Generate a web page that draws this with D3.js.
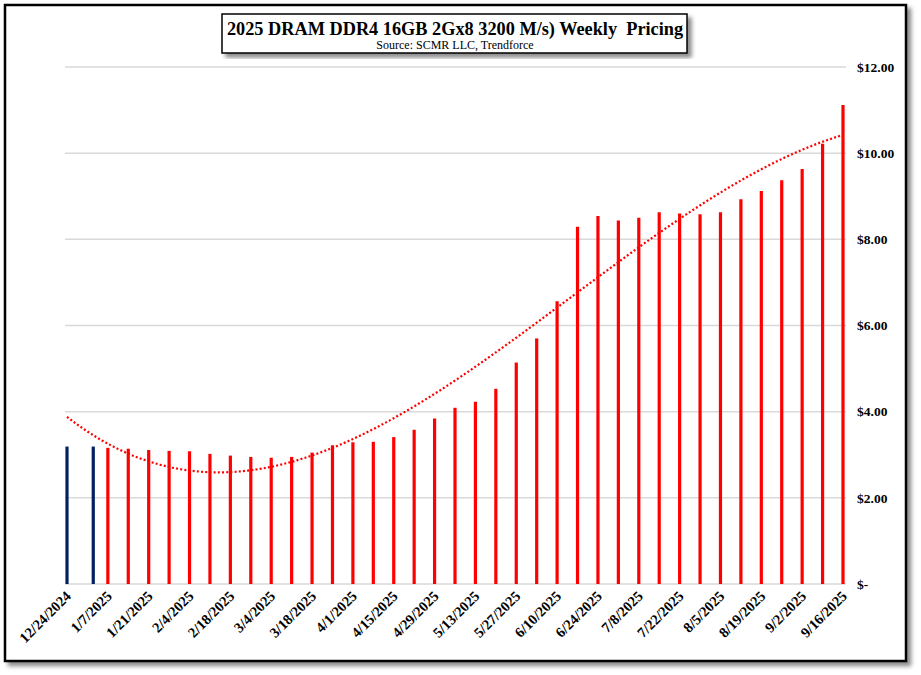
<!DOCTYPE html>
<html>
<head>
<meta charset="utf-8">
<script src="https://cdn.jsdelivr.net/npm/d3@7"></script>
<style>
  body { margin: 0; background: #fff; }
  text { font-family: "Liberation Serif", "Times New Roman", serif; font-weight: bold; }
</style>
</head>
<body>
<div id="chart"></div>
<script>
// weekly DDR4 16GB contract pricing
var dates = ["2024-12-24", "2025-01-02", "2025-01-07", "2025-01-14", "2025-01-21", "2025-01-28",
  "2025-02-04", "2025-02-11", "2025-02-18", "2025-02-25", "2025-03-04", "2025-03-11",
  "2025-03-18", "2025-03-25", "2025-04-01", "2025-04-08", "2025-04-15", "2025-04-22",
  "2025-04-29", "2025-05-06", "2025-05-13", "2025-05-20", "2025-05-27", "2025-06-03",
  "2025-06-10", "2025-06-17", "2025-06-24", "2025-07-01", "2025-07-08", "2025-07-15",
  "2025-07-22", "2025-07-29", "2025-08-05", "2025-08-12", "2025-08-19", "2025-08-26",
  "2025-09-02", "2025-09-09", "2025-09-16"];
var prices = [3.19, 3.19, 3.16, 3.14, 3.11, 3.09,
  3.08, 3.02, 2.98, 2.95, 2.93, 2.95,
  3.05, 3.22, 3.29, 3.30, 3.41, 3.58,
  3.84, 4.09, 4.23, 4.53, 5.14, 5.70,
  6.56, 8.29, 8.54, 8.44, 8.50, 8.63,
  8.60, 8.58, 8.63, 8.93, 9.12, 9.37,
  9.63, 10.22, 11.12];
// first two weeks are 2024 contract (blue), rest red
var barColors = ["#002060", "#002060"];
var tickLabels = ["12/24/2024", "1/7/2025", "1/21/2025", "2/4/2025", "2/18/2025", "3/4/2025",
  "3/18/2025", "4/1/2025", "4/15/2025", "4/29/2025", "5/13/2025", "5/27/2025", "6/10/2025",
  "6/24/2025", "7/8/2025", "7/22/2025", "8/5/2025", "8/19/2025", "9/2/2025", "9/16/2025"];
var yTicks = [0, 2, 4, 6, 8, 10, 12];

var width = 921, height = 675;
var parse = d3.timeParse("%Y-%m-%d");
var labelParse = d3.timeParse("%m/%d/%Y");
var data = dates.map(function(d, i) { return {date: parse(d), value: prices[i]}; });

var svg = d3.select("#chart").append("svg")
  .attr("width", width)
  .attr("height", height);

var defs = svg.append("defs");
var f = defs.append("filter").attr("id", "shadow").attr("x", "-5%").attr("y", "-5%").attr("width", "115%").attr("height", "120%");
f.append("feDropShadow").attr("dx", 4).attr("dy", 4).attr("stdDeviation", 2)
  .attr("flood-color", "#000").attr("flood-opacity", 0.45);

// outer frame
svg.append("rect")
  .attr("x", 5).attr("y", 5)
  .attr("width", 901).attr("height", 656)
  .attr("fill", "#fff")
  .attr("stroke", "#000")
  .attr("stroke-width", 2.5)
  .attr("filter", "url(#shadow)");

var x = d3.scaleTime()
  .domain([parse(dates[0]), parse(dates[dates.length - 1])])
  .range([67, 843]);
var y = d3.scaleLinear()
  .domain([0, 12])
  .range([584, 67]);

// gridlines
svg.append("g").selectAll("line")
  .data(yTicks)
  .enter().append("line")
    .attr("x1", 65).attr("x2", 846)
    .attr("y1", function(d) { return y(d); })
    .attr("y2", function(d) { return y(d); })
    .attr("stroke", "#d9d9d9")
    .attr("stroke-width", 1.5);

// y labels on the right
svg.append("g").selectAll("text")
  .data(yTicks)
  .enter().append("text")
    .attr("x", 857)
    .attr("y", function(d) { return y(d); })
    .attr("dy", "0.35em")
    .attr("font-size", "13.5px")
    .text(function(d) { return d === 0 ? "$-" : "$" + d3.format(".2f")(d); });

// bars
svg.append("g").selectAll("line")
  .data(data)
  .enter().append("line")
    .attr("x1", function(d) { return x(d.date); })
    .attr("x2", function(d) { return x(d.date); })
    .attr("y1", y(0))
    .attr("y2", function(d) { return y(d.value); })
    .attr("stroke", function(d, i) { return barColors[i] || "#ff0000"; })
    .attr("stroke-width", 3.2);

// polynomial trendline (3rd order least squares, like Excel)
function polyFit(xs, ys, order) {
  var n = order + 1;
  var A = [];
  for (var r = 0; r < n; r++) {
    A.push([]);
    for (var c = 0; c <= n; c++) A[r].push(0);
  }
  for (var k = 0; k < xs.length; k++) {
    for (var r = 0; r < n; r++) {
      for (var c = 0; c < n; c++) A[r][c] += Math.pow(xs[k], r + c);
      A[r][n] += ys[k] * Math.pow(xs[k], r);
    }
  }
  // gauss elimination
  for (var i = 0; i < n; i++) {
    var p = i;
    for (var r = i + 1; r < n; r++) if (Math.abs(A[r][i]) > Math.abs(A[p][i])) p = r;
    var tmp = A[i]; A[i] = A[p]; A[p] = tmp;
    for (var r = i + 1; r < n; r++) {
      var m = A[r][i] / A[i][i];
      for (var c = i; c <= n; c++) A[r][c] -= m * A[i][c];
    }
  }
  var coef = new Array(n).fill(0);
  for (var i = n - 1; i >= 0; i--) {
    var s = A[i][n];
    for (var c = i + 1; c < n; c++) s -= A[i][c] * coef[c];
    coef[i] = s / A[i][i];
  }
  return coef;
}
var t0 = data[0].date;
var days = data.map(function(d) { return (d.date - t0) / 864e5 / 100; });
var coef = polyFit(days, prices, 3);
var trend = d3.range(0, days[days.length - 1] + 0.0001, 0.02).map(function(t) {
  var v = 0;
  for (var i = 0; i < coef.length; i++) v += coef[i] * Math.pow(t, i);
  return [x(new Date(+t0 + t * 100 * 864e5)), y(v)];
});
svg.append("path")
  .attr("d", d3.line()(trend))
  .attr("fill", "none")
  .attr("stroke", "#ff0000")
  .attr("stroke-width", 2.2)
  .attr("stroke-dasharray", "2,2.2");

// x labels rotated
svg.append("g").selectAll("text")
  .data(tickLabels)
  .enter().append("text")
    .attr("transform", function(d) {
      return "translate(" + (x(labelParse(d)) + 5) + ",597) rotate(-45)";
    })
    .attr("text-anchor", "end")
    .attr("font-size", "14.5px")
    .text(function(d) { return d; });

// title box
svg.append("rect")
  .attr("x", 222).attr("y", 14)
  .attr("width", 465).attr("height", 39)
  .attr("fill", "#fff")
  .attr("stroke", "#000")
  .attr("stroke-width", 1.5)
  .attr("filter", "url(#shadow)");
svg.append("text")
  .attr("x", 455).attr("y", 35)
  .attr("text-anchor", "middle")
  .attr("font-size", "18.3px")
  .style("white-space", "pre")
  .text("2025 DRAM DDR4 16GB 2Gx8 3200 M/s) Weekly  Pricing");
svg.append("text")
  .attr("x", 455).attr("y", 49)
  .attr("text-anchor", "middle")
  .attr("font-size", "12px")
  .style("font-weight", "normal")
  .text("Source: SCMR LLC, Trendforce");
</script>
</body>
</html>
